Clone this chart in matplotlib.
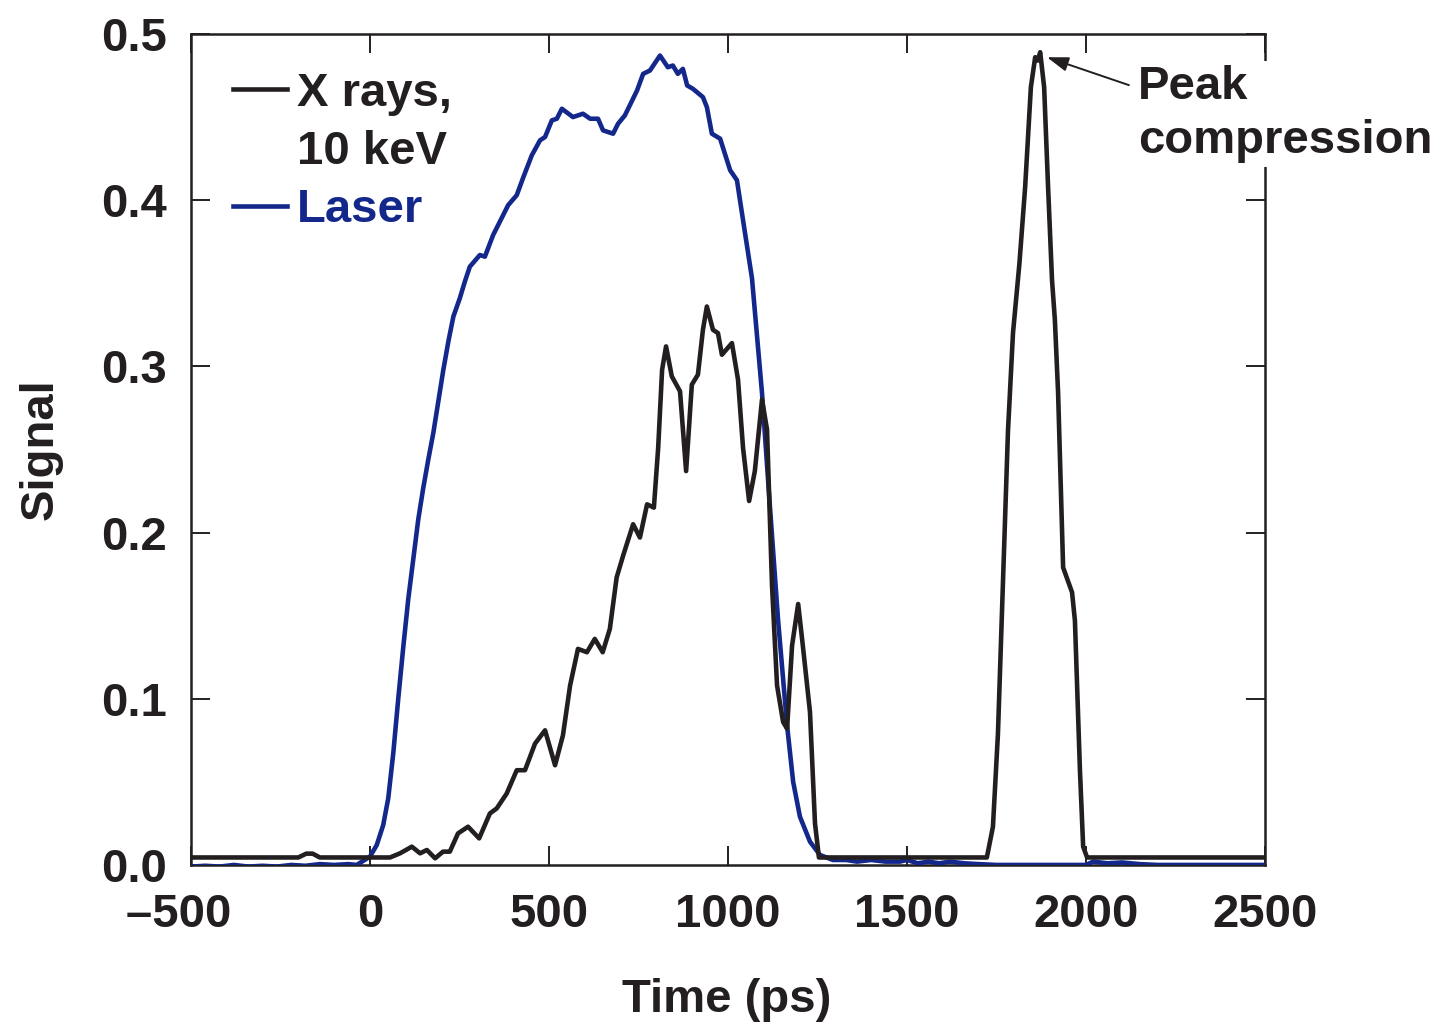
import matplotlib
matplotlib.use("Agg")
import matplotlib.pyplot as plt
from matplotlib.lines import Line2D

plt.rcParams['font.family'] = ['Liberation Sans', 'DejaVu Sans']
plt.rcParams['font.weight'] = 'bold'

# ---- data ----
laser_t = [-500, -460, -420, -380, -340, -300, -260, -220, -180, -140, -100, -60, -37,
           0, 19, 37, 51, 65, 79, 93, 107, 121, 135, 149, 163, 177, 191, 205, 219, 233,
           251, 265, 279, 307, 321, 344, 386, 410, 427, 452, 475, 489, 508, 522, 536,
           567, 595, 615, 637, 651, 679, 693, 712, 746, 763, 782, 810, 832, 846, 860,
           874, 886, 902, 930, 941, 955, 978, 1006, 1025, 1042, 1067, 1095, 1117, 1140,
           1165, 1182, 1201, 1229, 1257, 1293, 1330, 1360, 1400, 1440, 1480, 1500, 1530,
           1560, 1590, 1620, 1660, 1700, 1750, 1800, 1850, 1900, 1950, 2000, 2020, 2060,
           2100, 2150, 2200, 2300, 2400, 2500]
laser_v = [-0.001, -0.0005, -0.001, 0.0, -0.001, -0.0005, -0.001, 0.0, -0.0005, 0.0005,
           0.0, 0.0005, 0.0,
           0.005, 0.012, 0.024, 0.040, 0.067, 0.100, 0.131, 0.160, 0.184, 0.208, 0.227,
           0.244, 0.260, 0.279, 0.298, 0.315, 0.330,
           0.341, 0.351, 0.360, 0.367, 0.366, 0.379, 0.397, 0.403, 0.413, 0.427, 0.436,
           0.438, 0.448, 0.449, 0.455,
           0.450, 0.452, 0.449, 0.449, 0.442, 0.440, 0.446, 0.451, 0.466, 0.476, 0.478,
           0.487, 0.480, 0.481, 0.476,
           0.479, 0.469, 0.467, 0.462, 0.456, 0.440, 0.437, 0.418, 0.412, 0.388, 0.353,
           0.284, 0.216, 0.147,
           0.084, 0.050, 0.029, 0.014, 0.006, 0.003, 0.003, 0.002, 0.003, 0.002, 0.002,
           0.003, 0.001,
           0.002, 0.001, 0.002, 0.001, 0.0005, 0.0, 0.0, 0.0, 0.0, 0.0, 0.0, 0.002, 0.001,
           0.0015, 0.0005, 0.0, 0.0, 0.0, 0.0]

xray_t = [-500, -300, -200, -178, -160, -140, 0, 56, 84, 117, 140, 159, 182, 204, 223,
          246, 274, 305, 335, 354, 382, 410, 433, 461, 489, 517, 539, 559, 581, 606,
          628, 650, 670, 689, 707, 735, 754, 774, 793, 805, 816, 827, 843, 866, 883,
          899, 916, 930, 941, 958, 972, 983, 1011, 1028, 1042, 1059, 1075, 1095, 1109,
          1123, 1137, 1154, 1165, 1179, 1196, 1209, 1229, 1243, 1254, 1723, 1740, 1754,
          1768, 1782, 1796, 1814, 1830, 1846, 1858, 1865, 1872, 1883, 1894, 1905, 1913,
          1922, 1936, 1961, 1969, 1983, 1992, 2003, 2500]
xray_v = [0.0045, 0.0045, 0.0045, 0.0068, 0.0068, 0.0045, 0.0045, 0.0045, 0.007, 0.011,
          0.007, 0.009, 0.004, 0.008, 0.008,
          0.019, 0.023, 0.016, 0.031, 0.034, 0.043, 0.057, 0.057, 0.073, 0.081, 0.060,
          0.078, 0.108, 0.130, 0.128,
          0.136, 0.128, 0.142, 0.173, 0.186, 0.205, 0.197, 0.217, 0.215, 0.251, 0.298,
          0.312, 0.294, 0.285, 0.237,
          0.289, 0.295, 0.322, 0.336, 0.322, 0.320, 0.307, 0.314, 0.292, 0.251, 0.219,
          0.237, 0.280, 0.262,
          0.168, 0.108, 0.086, 0.082, 0.132, 0.157, 0.132, 0.092, 0.025, 0.0045, 0.0045,
          0.023, 0.079,
          0.170, 0.261, 0.320, 0.362, 0.408, 0.468, 0.486, 0.484, 0.489, 0.468, 0.408,
          0.352, 0.328,
          0.284, 0.179, 0.164, 0.147, 0.057, 0.011, 0.0045, 0.0045]

xticks = [-500, 0, 500, 1000, 1500, 2000, 2500]
# en space after the dash-prefixed label keeps the digits centred on the tick
xtick_labels = ['\u2013500\u2002', '0', '500', '1000', '1500', '2000', '2500']
yticks = [0.0, 0.1, 0.2, 0.3, 0.4, 0.5]
ytick_labels = ['0.0', '0.1', '0.2', '0.3', '0.4', '0.5']

peak_xy = (1891, 0.486)
peak_text_xy = (2145, 0.452)

BLACK = '#231f20'
BLUE = '#14288c'
FS = 34

fig = plt.figure(figsize=(14.4, 10.23), dpi=100)
ax = fig.add_axes([0.1326, 0.1545, 0.7459, 0.8123])

ax.plot(laser_t, laser_v, color=BLUE, lw=3.3, solid_joinstyle='round',
        solid_capstyle='round', zorder=3)
ax.plot(xray_t, xray_v, color=BLACK, lw=3.3, solid_joinstyle='round',
        solid_capstyle='round', zorder=4)

ax.set_xlim(-500, 2500)
ax.set_ylim(0, 0.5)
ax.set_xticks(xticks)
ax.set_xticklabels(xtick_labels)
ax.set_yticks(yticks)
ax.set_yticklabels(ytick_labels)

for s in ax.spines.values():
    s.set_linewidth(1.8)
    s.set_color(BLACK)
ax.tick_params(which='both', direction='in', top=True, right=True, length=14,
               width=1.4, color=BLACK, labelsize=FS, labelcolor=BLACK)
ax.tick_params(axis='x', pad=20)
ax.tick_params(axis='y', pad=17)
for lab in ax.get_xticklabels() + ax.get_yticklabels():
    lab.set_fontweight('bold')

ax.set_xlabel('Time (ps)', fontsize=FS, fontweight='bold', color=BLACK)
ax.set_ylabel('Signal', fontsize=FS, fontweight='bold', color=BLACK)
ax.xaxis.set_label_coords(0.499, -0.136)
ax.yaxis.set_label_coords(-0.119, 0.5)

handles = [Line2D([], [], color=BLACK, lw=3.3),
           Line2D([], [], linestyle='none'),
           Line2D([], [], color=BLUE, lw=3.3)]
labels = ['X rays,', '10 keV', 'Laser']
leg = ax.legend(handles, labels, loc='upper left', bbox_to_anchor=(0.039, 0.9544),
                frameon=False, handlelength=1.15, handletextpad=0.2,
                labelspacing=0.3, borderpad=0, borderaxespad=0,
                labelcolor=[BLACK, BLACK, BLUE], prop={'weight': 'bold', 'size': FS})

ax.annotate('Peak\ncompression', xy=peak_xy, xytext=peak_text_xy, textcoords='data',
            fontsize=FS, fontweight='bold', color=BLACK, ha='left', va='center',
            linespacing=1.3, annotation_clip=False, zorder=6,
            bbox=dict(boxstyle='square,pad=0.08', facecolor='white', edgecolor='none'),
            arrowprops=dict(arrowstyle='-|>,head_length=0.65,head_width=0.22',
                            mutation_scale=20, color=BLACK, lw=1.4,
                            shrinkA=4, shrinkB=0, relpos=(0.0, 0.76)))

fig.savefig('out.png', dpi=100, facecolor='white')
